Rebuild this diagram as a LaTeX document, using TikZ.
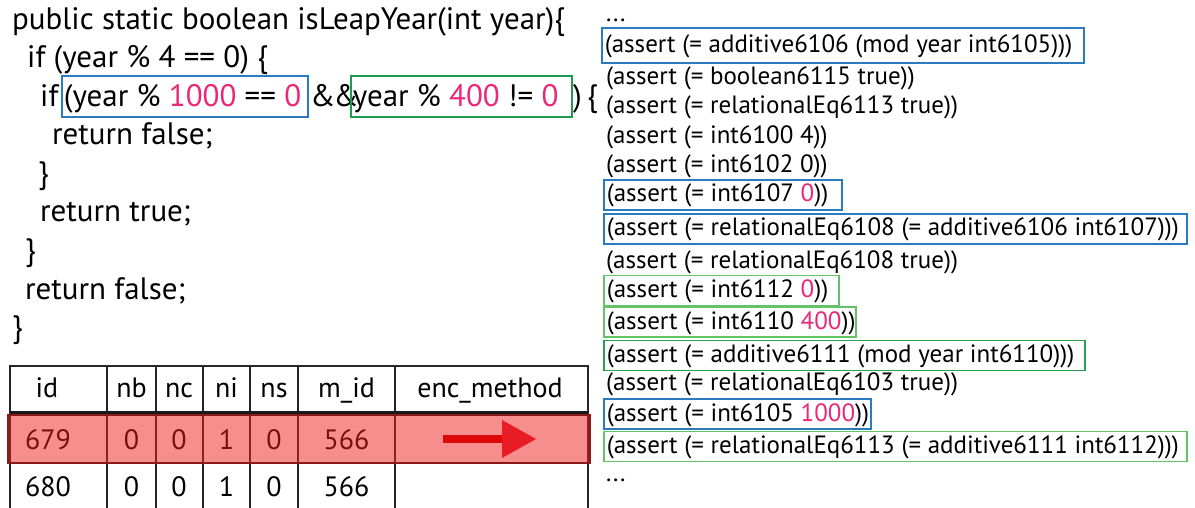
\documentclass[tikz,border=0pt]{standalone}
\usepackage{fontspec}
\setmainfont{PT Sans}
\definecolor{boxblue}{RGB}{43,123,192}
\definecolor{codegreen}{RGB}{30,155,80}
\definecolor{greenA}{RGB}{40,160,80}
\definecolor{greenB}{RGB}{100,195,100}
\definecolor{numpink}{RGB}{235,40,120}
\definecolor{rowred}{RGB}{240,30,30}
\definecolor{rowedge}{RGB}{140,25,25}
\definecolor{arrowred}{RGB}{232,28,36}
\definecolor{shaftred}{RGB}{222,8,8}
\newcommand{\pk}[1]{\textcolor{numpink}{#1}}
\tikzset{
  code/.style={anchor=base west, inner sep=0pt, font=\fontsize{31}{37}\selectfont},
  codebox/.style={anchor=base west, inner xsep=2pt, inner ysep=2.5pt, text height=28pt, text depth=8pt,
    draw=#1, line width=1.8pt, font=\fontsize{31}{37}\selectfont},
  smt/.style={anchor=west, inner xsep=3pt, inner ysep=3pt, text height=19pt, text depth=5pt,
    font=\fontsize{25}{30}\selectfont},
  smtbox/.style={smt, draw=#1, line width=1.6pt},
  dots/.style={anchor=base west, inner sep=0pt, font=\fontsize{25}{30}\selectfont},
  cell/.style={anchor=base, inner sep=0pt, font=\fontsize{28}{32}\selectfont},
  tline/.style={draw=black!85, line width=1.5pt},
}
\begin{document}
\begin{tikzpicture}[x=1pt,y=-1pt]
\useasboundingbox (0,0) rectangle (1195,508);
\fill[white] (0,0) rectangle (1195,508);
% ---- code ----
\node[code] (c1) at (12,29.5) {public static boolean isLeapYear(int year)\{};
\node[code] (c2) at (27,68) {if (year \% 4 == 0) \{};
\node[code] (c3a) at (40,106.5) {if};
\node[codebox=boxblue] (c3b) at (61,106.5) {\makebox[242pt][l]{(year \% \pk{1000} == \pk{0}}};
\node[code] (c3c) at (310,106.5) {\&\kern-2pt\&};
\node[codebox=codegreen] (c3d) at (350,106.5) {\makebox[217pt][l]{year \% \pk{400} != \pk{0}}};
\node[code] (c3e) at (573,106.5) {)\,\{};
\node[code] (c4) at (52,145) {return false;};
\node[code] (c5) at (38,183.5) {\}};
\node[code] (c6) at (40,222) {return true;};
\node[code] (c7) at (25,260.5) {\}};
\node[code] (c8) at (25,299) {return false;};
\node[code] (c9) at (12,337.5) {\}};
% ---- smt ----
\node[dots] (d1) at (606,22) {...};
\node[smtbox=boxblue, inner ysep=5.5pt] (s1) at (601,45.5) {\makebox[476pt][l]{(assert (= additive6106 (mod year int6105)))}};
\node[smt] (s2) at (603,78) {(assert (= boolean6115 true))};
\node[smt] (s3) at (603,107) {(assert (= relationalEq6113 true))};
\node[smt] (s4) at (603,137) {(assert (= int6100 4))};
\node[smt] (s5) at (603,166) {(assert (= int6102 0))};
\node[smtbox=boxblue] (s6) at (603,195) {\makebox[232pt][l]{(assert (= int6107 \pk{0}))}};
\node[smtbox=boxblue] (s7) at (603,229) {\makebox[577pt][l]{(assert (= relationalEq6108 (= additive6106 int6107)))}};
\node[smt] (s8) at (603,261) {(assert (= relationalEq6108 true))};
\node[smtbox=greenB] (s9) at (603,290.5) {\makebox[229pt][l]{(assert (= int6112 \pk{0}))}};
\node[smtbox=greenB] (s10) at (603,322) {\makebox[246pt][l]{(assert (= int6110 \pk{400}))}};
\node[smtbox=greenA] (s11) at (603,355.5) {\makebox[475pt][l]{(assert (= additive6111 (mod year int6110)))}};
\node[smt] (s12) at (603,383) {(assert (= relationalEq6103 true))};
\node[smtbox=boxblue] (s13) at (603,414) {\makebox[261pt][l]{(assert (= int6105 \pk{1000}))}};
\node[smtbox=greenB] (s14) at (603,446.5) {\makebox[577pt][l]{(assert (= relationalEq6113 (= additive6111 int6112)))}};
\node[dots] (d2) at (606,481) {...};
% ---- table ----
\draw[tline] (10,510) -- (10,366) -- (588,366) -- (588,510);
\foreach \cx in {107,156,203,250,298,395} {\draw[tline] (\cx,366) -- (\cx,510);}
\draw[tline] (10,463) -- (588,463);
\draw[black!90, line width=4pt] (10,413) -- (588,413);
\node[cell] (hid) at (47,397) {id};
\node[cell] (hnb) at (131.5,397) {nb};
\node[cell] (hnc) at (179,397) {nc};
\node[cell] (hni) at (226.5,397) {ni};
\node[cell] (hns) at (274,397) {ns};
\node[cell] (hmid) at (346.5,397) {m\_id};
\node[cell] (henc) at (490,397) {enc\_method};
\node[cell] (aid) at (48,449) {679};
\node[cell] (anb) at (131.5,449) {0};
\node[cell] (anc) at (179,449) {0};
\node[cell] (ani) at (226.5,449) {1};
\node[cell] (ans) at (274,449) {0};
\node[cell] (amid) at (346.5,449) {566};
\node[cell] (bid) at (48,496) {680};
\node[cell] (bnb) at (131.5,496) {0};
\node[cell] (bnc) at (179,496) {0};
\node[cell] (bni) at (226.5,496) {1};
\node[cell] (bns) at (274,496) {0};
\node[cell] (bmid) at (346.5,496) {566};
% red highlight overlay
\fill[rowred, fill opacity=0.5] (8,415) rectangle (590,463);
\draw[rowedge, line width=1.5pt] (8,415) rectangle (590,463);
% arrow
\coordinate (arS) at (443,439);
\coordinate (arE) at (513,439);
\coordinate (arT) at (536,439);
\draw[shaftred, line width=8pt] (arS) -- (arE);
\fill[arrowred] (502,420) -- (arT) -- (502,458) -- cycle;
\end{tikzpicture}
\end{document}
